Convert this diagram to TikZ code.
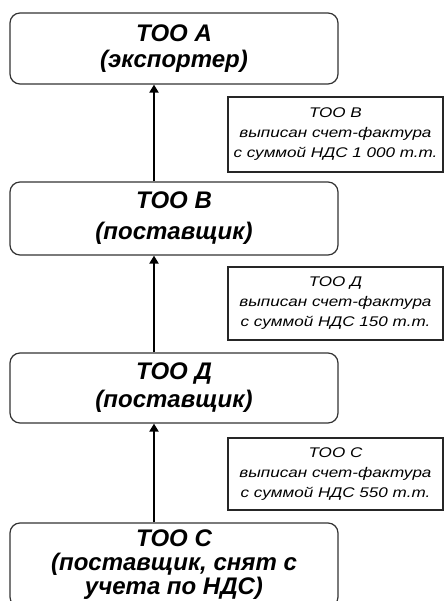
\documentclass[tikz,border=0pt]{standalone}
\usepackage{fontspec}
\setmainfont{Liberation Sans}
\newfontfamily\labfont[FakeStretch=1.22]{Liberation Sans}
\usetikzlibrary{arrows.meta}
\begin{document}
\begin{tikzpicture}[x=1pt,y=-1pt,
  mainbox/.style={draw=black!80, line width=1.2pt, rounded corners=10pt, minimum width=328pt, align=center, inner sep=0pt},
  mfont/.style={font=\fontsize{24}{#1}\selectfont\bfseries\itshape},
  notebox/.style={draw=black!85, line width=1.5pt, minimum width=215pt, align=center, font=\labfont\fontsize{14}{20}\selectfont\itshape, inner sep=0pt},
  arr/.style={line width=2.5pt, -{Triangle[length=8pt,width=9pt]}}]
\useasboundingbox (0,0) rectangle (445,601);
\clip (0,0) rectangle (445,601);
\node[mainbox, mfont=26, minimum height=71pt] (A) at (174,48.5) {ТОО А\\(экспортер)};
\node[mainbox, mfont=31, minimum height=73pt] (B) at (174,218.5) {ТОО В\\(поставщик)};
\node[mainbox, mfont=28, minimum height=70pt] (D) at (174,388) {ТОО Д\\(поставщик)};
\node[mainbox, mfont=24, minimum height=84pt] (C) at (174,565) {ТОО С\\(поставщик, снят с\\учета по НДС)};
\node[notebox, minimum height=75pt] (n1) at (335.5,134.5) {ТОО В\\выписан счет-фактура\\с суммой НДС 1 000 т.т.};
\node[notebox, minimum height=73pt] (n2) at (335.5,303.5) {ТОО Д\\выписан счет-фактура\\с суммой НДС 150 т.т.};
\node[notebox, minimum height=72pt] (n3) at (335.5,474) {ТОО С\\выписан счет-фактура\\с суммой НДС 550 т.т.};
\coordinate (ax) at (154,0);
\draw[arr] (B.north -| ax) -- (A.south -| ax);
\draw[arr] (D.north -| ax) -- (B.south -| ax);
\draw[arr] (C.north -| ax) -- (D.south -| ax);
\end{tikzpicture}
\end{document}
